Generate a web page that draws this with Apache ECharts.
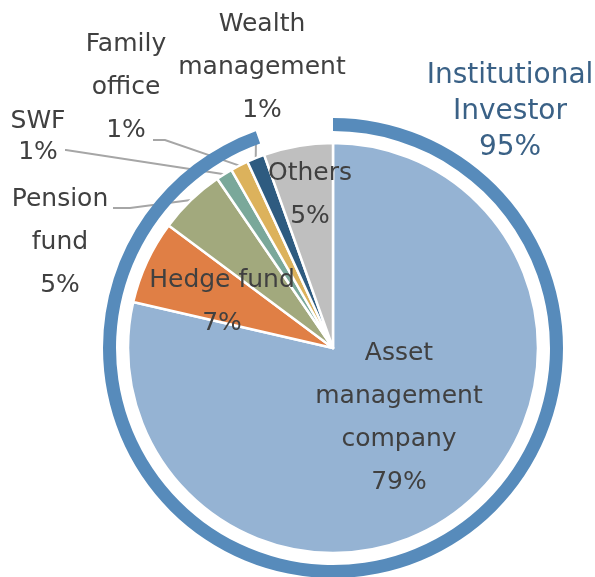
<!DOCTYPE html>
<html>
<head>
<meta charset="utf-8">
<script src="https://cdn.jsdelivr.net/npm/echarts@6/dist/echarts.min.js"></script>
<style>
  html, body { margin: 0; padding: 0; background: #fff; }
  #chart { width: 595px; height: 577px; }
</style>
</head>
<body>
<div id="chart"></div>
<script>
// investor breakdown, clockwise from 12 o'clock
const categories = ['Asset\nmanagement\ncompany', 'Hedge fund', 'Pension\nfund', 'SWF', 'Family\noffice', 'Wealth\nmanagement', 'Others'];
const values = [78.6, 6.6, 5.25, 1.3, 1.4, 1.4, 5.45];
const percentLabels = ['79%', '7%', '5%', '1%', '1%', '1%', '5%'];

// outer ring: institutional investors vs the rest
const groupNames = ['Institutional\nInvestor', 'Others'];
const groupValues = [94.55, 5.45];
const groupLabels = ['95%', ''];

const colors = ['#95b3d3', '#e07f45', '#a2a97d', '#7aa89a', '#dcb25c', '#2e5b80', '#bfbfbf'];
const insideLabels = [0, 1, 6];
// label centres (px)
const labelPos = [[399, 418], [222, 302], [60, 242], [38, 137], [126, 87], [262, 67], [310, 195]];
// label-side ends of the leader lines (bend point, end point)
const leaderEnds = {
  2: [[130, 208], [113, 208]],
  3: [[66, 150], [65, 150]],
  4: [[165, 140], [153, 140]],
  5: [[256, 136], [256, 134]]
};
const ringLabelPos = [510, 112];

const chart = echarts.init(document.getElementById('chart'));

const pieData = values.map((v, i) => {
  const inside = insideLabels.indexOf(i) >= 0;
  return {
    name: categories[i],
    value: v,
    itemStyle: { color: colors[i] },
    label: {
      position: inside ? 'inside' : 'outside',
      lineHeight: i === 3 ? 31 : 43
    },
    labelLine: { show: !inside }
  };
});

const ringData = groupValues.map((v, i) => ({
  name: groupNames[i],
  value: v,
  itemStyle: { color: i === 0 ? '#578bbb' : 'rgba(0,0,0,0)' },
  label: { show: i === 0 }
}));

chart.setOption({
  backgroundColor: '#fff',
  animation: false,
  series: [
    {
      type: 'pie',
      center: [333, 348],
      radius: [0, 205],
      startAngle: 90,
      clockwise: true,
      silent: true,
      avoidLabelOverlap: false,
      data: pieData,
      itemStyle: { borderColor: '#fff', borderWidth: 2.5 },
      label: {
        formatter: p => p.name + '\n' + percentLabels[p.dataIndex],
        fontFamily: 'DejaVu Sans',
        fontSize: 25,
        color: '#404040',
        align: 'center'
      },
      labelLine: {
        show: true,
        length: 0,
        length2: 20,
        lineStyle: { color: '#a6a6a6', width: 2 }
      },
      labelLayout: p => {
        const out = {
          x: labelPos[p.dataIndex][0],
          y: labelPos[p.dataIndex][1],
          align: 'center',
          verticalAlign: 'middle'
        };
        const ends = leaderEnds[p.dataIndex];
        if (ends && p.labelLinePoints) {
          out.labelLinePoints = [p.labelLinePoints[0].slice(), ends[0], ends[1]];
        }
        return out;
      }
    },
    {
      type: 'pie',
      center: [333, 348],
      radius: [217, 230],
      startAngle: 90,
      clockwise: true,
      silent: true,
      data: ringData,
      label: {
        position: 'outside',
        formatter: p => p.name + '\n' + groupLabels[p.dataIndex],
        fontFamily: 'DejaVu Sans',
        fontSize: 28,
        lineHeight: 36,
        color: '#3a6186',
        align: 'center'
      },
      labelLine: { show: false },
      labelLayout: () => ({ x: ringLabelPos[0], y: ringLabelPos[1], align: 'center', verticalAlign: 'middle' })
    }
  ]
});
</script>
</body>
</html>
